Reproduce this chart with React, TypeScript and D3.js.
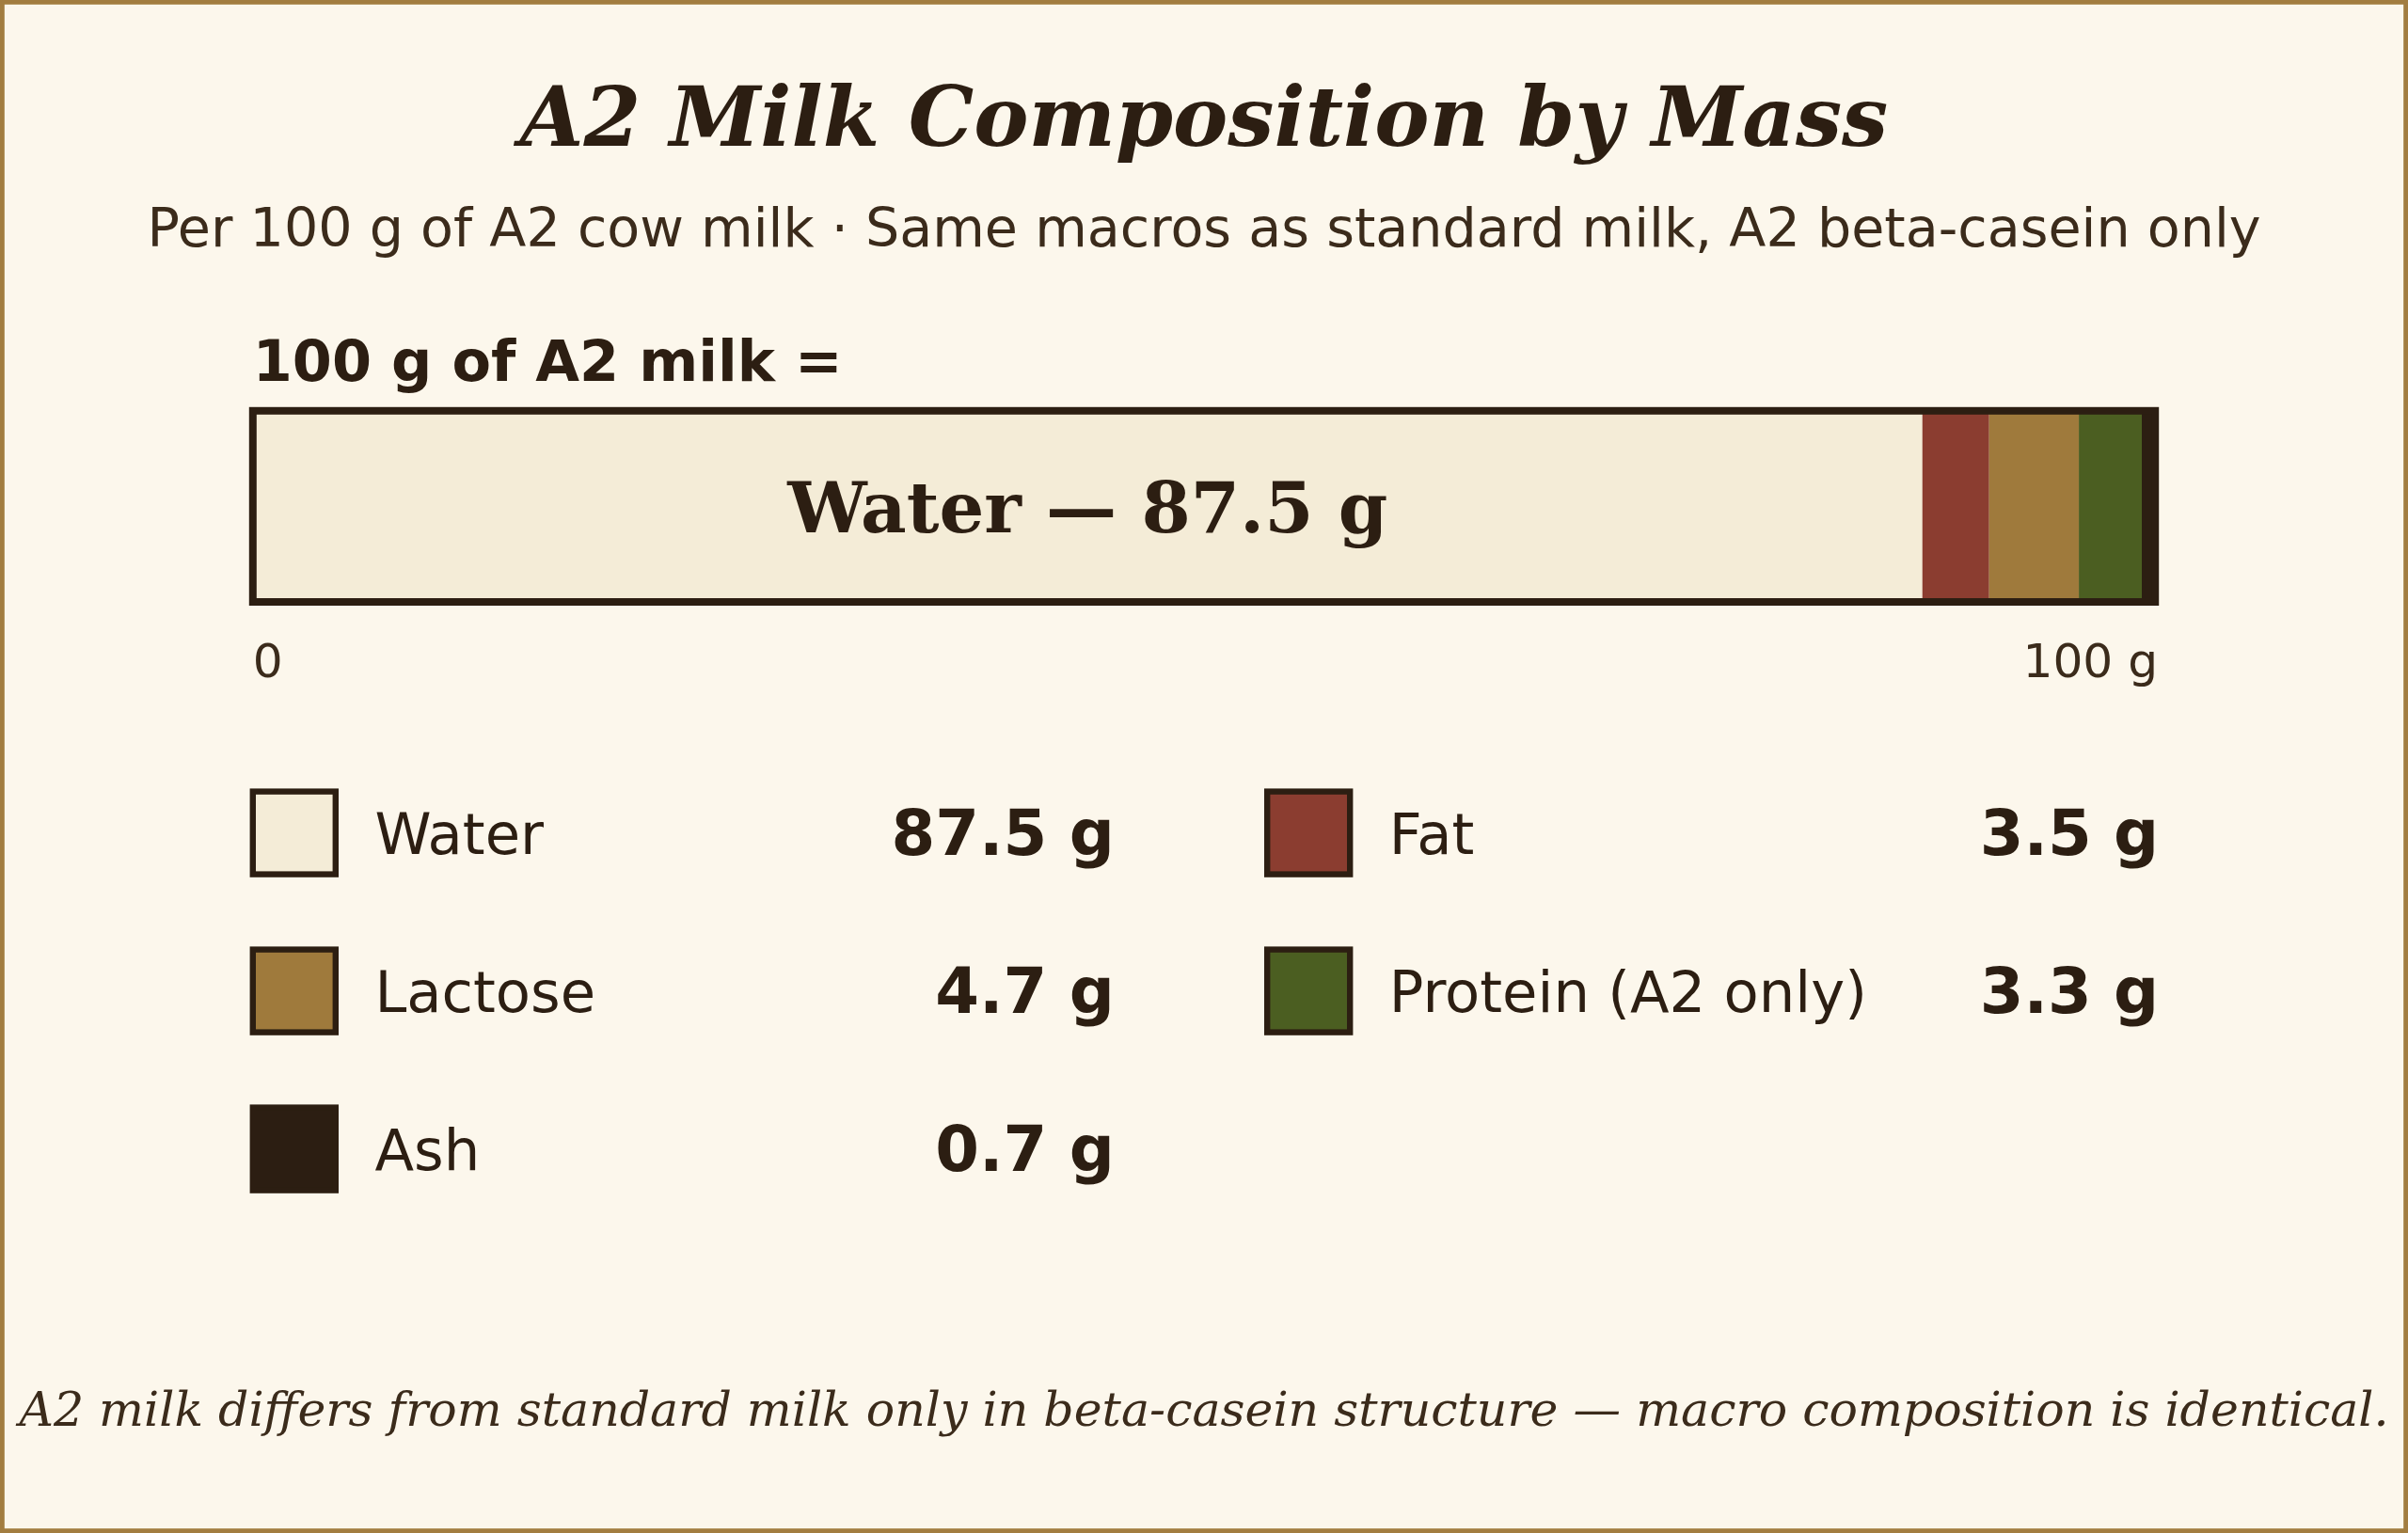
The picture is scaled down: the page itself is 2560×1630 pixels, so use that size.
import { scaleLinear, cumsum, sum } from "d3";

// composition per 100 g, in bar order
const components = ["Water", "Fat", "Lactose", "Protein (A2 only)", "Ash"];
const grams = [87.5, 3.5, 4.7, 3.3, 0.7];
const colors = ["#f4ecd7", "#8b3d30", "#9f7a3c", "#4b5e21", "#2c1e12"];
const axisTicks = ["0", "100 g"];

const W = 2560;
const H = 1630;
const S = 1.6; // layout was done in 1600-wide units

const INK = "#2c1e12";
const SOFT = "#3b2b1b";

function App() {
    const total = sum(grams);
    const x = scaleLinear().domain([0, total]).range([168 * S, 1432 * S]);
    const ends = Array.from(cumsum(grams));
    const starts = ends.map((e, i) => e - grams[i]);

    const barY = 273 * S;
    const barH = 127 * S;

    // legend: 2 columns, row-major
    const colX = [168 * S, 842 * S];
    const valX = [740.5 * S, 1434.5 * S];
    const rowY = (r: number) => (526 + r * 105) * S;
    const sw = 55 * S;

    const water = 0;
    const waterMid = (x(starts[water]) + x(ends[water])) / 2;

    return (
        <svg
            width={W}
            height={H}
            viewBox={`0 0 ${W} ${H}`}
            style={{ position: "absolute", left: 0, top: 0, display: "block" }}
        >
            <rect
                x={2.4}
                y={2.4}
                width={W - 4.8}
                height={H - 4.8}
                fill="#fcf7ec"
                stroke="#a27d40"
                strokeWidth={4.8}
            />

            <text
                x={W / 2}
                y={155}
                textAnchor="middle"
                fontFamily="DejaVu Serif"
                fontWeight="bold"
                fontStyle="italic"
                fontSize={54.6 * S}
                fill={INK}
            >
                A2 Milk Composition by Mass
            </text>
            <text
                x={W / 2}
                y={262}
                textAnchor="middle"
                fontFamily="DejaVu Sans"
                fontSize={35.7 * S}
                fill={SOFT}
            >
                Per 100 g of A2 cow milk · Same macros as standard milk, A2 beta-casein only
            </text>

            <text
                x={x(0)}
                y={405}
                fontFamily="DejaVu Sans"
                fontWeight="bold"
                fontSize={37.8 * S}
                fill={INK}
            >
                100 g of A2 milk =
            </text>

            {/* stacked bar */}
            <g>
                {grams.map((g, i) => (
                    <rect
                        key={components[i]}
                        x={x(starts[i])}
                        y={barY}
                        width={x(ends[i]) - x(starts[i])}
                        height={barH}
                        fill={colors[i]}
                    />
                ))}
                <rect
                    x={x(0)}
                    y={barY}
                    width={x(total) - x(0)}
                    height={barH}
                    fill="none"
                    stroke={INK}
                    strokeWidth={5 * S}
                />
                <text
                    x={waterMid}
                    y={566}
                    textAnchor="middle"
                    fontFamily="DejaVu Serif"
                    fontWeight="bold"
                    fontSize={47 * S}
                    fill={INK}
                >
                    {`${components[water]} — ${grams[water]} g`}
                </text>
            </g>

            {axisTicks.map((t, i) => (
                <text
                    key={t}
                    x={i === 0 ? x(0) : x(total) + 3}
                    y={720}
                    textAnchor={i === 0 ? "start" : "end"}
                    fontFamily="DejaVu Sans"
                    fontSize={31.4 * S}
                    fill={SOFT}
                >
                    {t}
                </text>
            ))}

            {/* legend */}
            {components.map((name, i) => {
                const c = i % 2;
                const r = Math.floor(i / 2);
                const y0 = rowY(r);
                return (
                    <g key={name}>
                        <rect
                            x={colX[c]}
                            y={y0}
                            width={sw}
                            height={sw}
                            fill={colors[i]}
                            stroke={INK}
                            strokeWidth={4 * S}
                        />
                        <text
                            x={colX[c] + 81 * S}
                            y={y0 + 66}
                            fontFamily="DejaVu Sans"
                            fontSize={38 * S}
                            fill={INK}
                        >
                            {name}
                        </text>
                        <text
                            x={valX[c]}
                            y={y0 + 67}
                            textAnchor="end"
                            fontFamily="DejaVu Sans"
                            fontWeight="bold"
                            fontSize={42 * S}
                            fill={INK}
                        >
                            {`${grams[i]} g`}
                        </text>
                    </g>
                );
            })}

            <text
                x={W / 2}
                y={1516}
                textAnchor="middle"
                fontFamily="DejaVu Serif"
                fontStyle="italic"
                fontSize={31.6 * S}
                fill={SOFT}
            >
                A2 milk differs from standard milk only in beta-casein structure — macro composition is identical.
            </text>
        </svg>
    );
}

export default App;
